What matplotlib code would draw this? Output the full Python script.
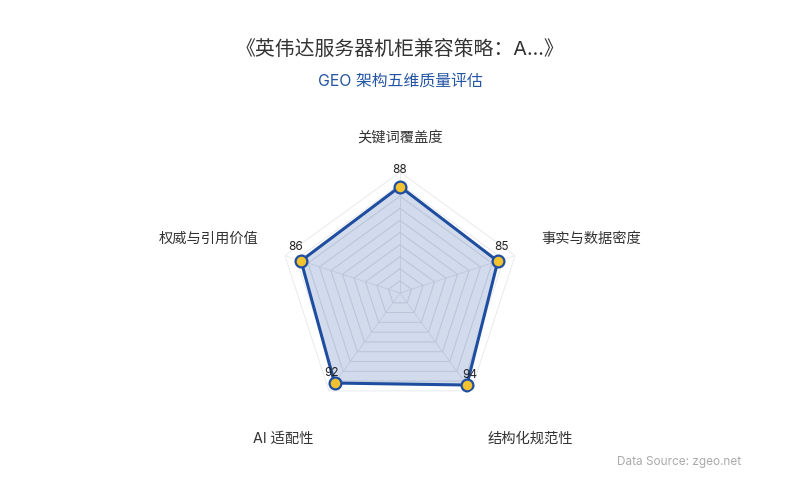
import matplotlib
matplotlib.use('Agg')
import matplotlib.pyplot as plt
import numpy as np

plt.rcParams['font.family'] = ['Inter', 'Noto Sans CJK SC', 'DejaVu Sans']

title = '《英伟达服务器机柜兼容策略：A...》'
subtitle = 'GEO 架构五维质量评估'
categories = ['关键词覆盖度', '事实与数据密度', '结构化规范性', 'AI 适配性', '权威与引用价值']
scores = [88, 85, 94, 92, 86]
max_score = 100
source = 'Data Source: zgeo.net'

line_blue = '#1f4ea1'
gold = '#f2c230'

fig = plt.figure(figsize=(8, 5), dpi=100)
# polar axes centred at (400, 293) px, radius 121 px
ax = fig.add_axes([0.34875, 0.172, 0.3025, 0.484], projection='polar')
ax.set_theta_zero_location('N')
ax.set_theta_direction(-1)
ax.set_ylim(0, max_score)
ax.axis('off')

n = len(categories)
theta = np.linspace(0, 2 * np.pi, n, endpoint=False)
theta_c = np.append(theta, theta[0])

# pentagon grid rings
for lvl in np.arange(10, max_score + 1, 10):
    ax.plot(theta_c, [lvl] * (n + 1), color='#e8eaef', lw=0.7, zorder=1)
for t in theta:
    ax.plot([t, t], [0, max_score], color='#e8eaef', lw=0.7, zorder=1)

vals = np.append(scores, scores[0])
area = ax.fill(theta_c, vals, color=line_blue, alpha=0.2, lw=0, zorder=2)[0]
# grid lines showing through the fill only
for lvl in np.arange(10, max_score + 1, 10):
    ring, = ax.plot(theta_c, [lvl] * (n + 1), color='#b9c3d6', lw=0.6, alpha=0.6, zorder=2.5)
    ring.set_clip_path(area)
ax.plot(theta_c, vals, color=line_blue, lw=2.2, zorder=3)
ax.plot(theta, scores, 'o', ms=8.5, mfc=gold, mec=line_blue, mew=1.6, zorder=4)

# value labels
val_off = [(0, 17), (4, 14), (3, 10), (-3, 10), (-5, 14)]
for t, v, off in zip(theta, scores, val_off):
    ax.annotate(str(v), xy=(t, v), xytext=off, textcoords='offset pixels',
                ha='center', va='center', fontsize=8.5, color='#222222', zorder=5)

# category labels
name_off = [(0, 34), (76, 17), (59, -48), (-46, -48), (-76, 17)]
for t, name, off in zip(theta, categories, name_off):
    ax.annotate(name, xy=(t, max_score), xytext=off, textcoords='offset pixels',
                ha='center', va='center', fontsize=10.3, color='#333333',
                annotation_clip=False)

fig.text(0.5, 1 - 50 / 500, title, ha='center', va='center', fontsize=14.3, color='#333333')
fig.text(0.5, 1 - 81 / 500, subtitle, ha='center', va='center', fontsize=11.4, color='#2455a4')
fig.text(741 / 800, 1 - 462 / 500, source, ha='right', va='center', fontsize=8.5, color='#aaaaaa')

fig.savefig('out.png', dpi=100, facecolor='white')
